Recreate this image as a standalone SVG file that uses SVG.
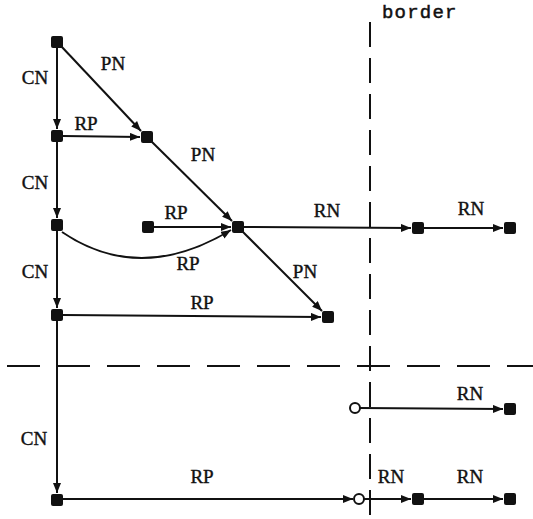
<svg xmlns="http://www.w3.org/2000/svg" width="533" height="519" viewBox="0 0 533 519">
  <style>
    .edge { fill: none; stroke: #111; stroke-width: 2; }
    .node { fill: #111; }
    .port { fill: #fff; stroke: #111; stroke-width: 2; }
    .lbl { font-family: "Liberation Serif", "Times New Roman", "DejaVu Serif", serif; font-size: 19px; fill: #111; stroke: #111; stroke-width: 0.4; text-anchor: middle; }
    .title { font-family: "Liberation Mono", "Courier New", monospace; font-size: 19px; letter-spacing: 1.2px; fill: #111; stroke: #111; stroke-width: 0.5; }
    .bord { stroke: #111; stroke-width: 2; fill: none; }
  </style>
  <defs>
    <marker id="arr" viewBox="0 0 10 8" refX="10" refY="4" markerWidth="10" markerHeight="8" markerUnits="userSpaceOnUse" orient="auto">
      <path d="M0,0 L10,4 L0,8 Z" fill="#111"/>
    </marker>
  </defs>
  <rect width="533" height="519" fill="#fff"/>

  <!-- border lines -->
  <g id="borders">
    <line class="bord" x1="370" y1="22" x2="370" y2="519" stroke-dasharray="25 11"/>
    <line class="bord" x1="7" y1="366" x2="533" y2="366" stroke-dasharray="33 17"/>
    <text class="title" x="382" y="18">border</text>
  </g>

  <!-- connectors -->
  <g id="connectors">
    <line class="edge" x1="57" y1="48" x2="57" y2="129" marker-end="url(#arr)"/>
    <line class="edge" x1="57" y1="142" x2="57" y2="218" marker-end="url(#arr)"/>
    <line class="edge" x1="57" y1="231" x2="57" y2="308" marker-end="url(#arr)"/>
    <line class="edge" x1="57" y1="321" x2="57" y2="493" marker-end="url(#arr)"/>
    <line class="edge" x1="61" y1="46" x2="141" y2="131" marker-end="url(#arr)"/>
    <line class="edge" x1="151" y1="141" x2="232" y2="221" marker-end="url(#arr)"/>
    <line class="edge" x1="242" y1="231" x2="322" y2="311" marker-end="url(#arr)"/>
    <line class="edge" x1="63" y1="136" x2="140" y2="137" marker-end="url(#arr)"/>
    <line class="edge" x1="154" y1="227" x2="231" y2="227" marker-end="url(#arr)"/>
    <path class="edge" d="M62,232 Q140,285 231,230" marker-end="url(#arr)"/>
    <line class="edge" x1="63" y1="315" x2="321" y2="317" marker-end="url(#arr)"/>
    <line class="edge" x1="244" y1="227" x2="411" y2="228" marker-end="url(#arr)"/>
    <line class="edge" x1="424" y1="228" x2="503" y2="228" marker-end="url(#arr)"/>
    <line class="edge" x1="360" y1="408" x2="503" y2="409" marker-end="url(#arr)"/>
    <line class="edge" x1="63" y1="499" x2="353" y2="499" marker-end="url(#arr)"/>
    <line class="edge" x1="364" y1="499" x2="411" y2="499" marker-end="url(#arr)"/>
    <line class="edge" x1="424" y1="499" x2="503" y2="499" marker-end="url(#arr)"/>
  </g>

  <!-- edge labels -->
  <g id="labels">
    <text class="lbl" x="35" y="84">CN</text>
    <text class="lbl" x="35" y="189">CN</text>
    <text class="lbl" x="35" y="278">CN</text>
    <text class="lbl" x="34" y="445">CN</text>
    <text class="lbl" x="113" y="70">PN</text>
    <text class="lbl" x="203" y="161">PN</text>
    <text class="lbl" x="305" y="278">PN</text>
    <text class="lbl" x="86" y="130">RP</text>
    <text class="lbl" x="176" y="219">RP</text>
    <text class="lbl" x="188" y="270">RP</text>
    <text class="lbl" x="202" y="309">RP</text>
    <text class="lbl" x="202" y="483">RP</text>
    <text class="lbl" x="327" y="217">RN</text>
    <text class="lbl" x="471" y="215">RN</text>
    <text class="lbl" x="470" y="400">RN</text>
    <text class="lbl" x="391" y="483">RN</text>
    <text class="lbl" x="470" y="483">RN</text>
  </g>

  <!-- nodes -->
  <g id="nA"><rect class="node" x="51" y="36" width="12" height="12" rx="2"/></g>
  <g id="nB"><rect class="node" x="51" y="130" width="12" height="12" rx="2"/></g>
  <g id="nC"><rect class="node" x="141" y="131" width="12" height="12" rx="2"/></g>
  <g id="nD"><rect class="node" x="51" y="219" width="12" height="12" rx="2"/></g>
  <g id="nE"><rect class="node" x="142" y="221" width="12" height="12" rx="2"/></g>
  <g id="nF"><rect class="node" x="232" y="221" width="12" height="12" rx="2"/></g>
  <g id="nG"><rect class="node" x="412" y="222" width="12" height="12" rx="2"/></g>
  <g id="nH"><rect class="node" x="504" y="222" width="12" height="12" rx="2"/></g>
  <g id="nI"><rect class="node" x="51" y="309" width="12" height="12" rx="2"/></g>
  <g id="nJ"><rect class="node" x="322" y="311" width="12" height="12" rx="2"/></g>
  <g id="nK"><circle class="port" cx="355" cy="408" r="5"/></g>
  <g id="nL"><rect class="node" x="504" y="403" width="12" height="12" rx="2"/></g>
  <g id="nM"><rect class="node" x="51" y="494" width="12" height="12" rx="2"/></g>
  <g id="nN"><circle class="port" cx="359" cy="499" r="5"/></g>
  <g id="nO"><rect class="node" x="412" y="493" width="12" height="12" rx="2"/></g>
  <g id="nP"><rect class="node" x="504" y="493" width="12" height="12" rx="2"/></g>
</svg>
